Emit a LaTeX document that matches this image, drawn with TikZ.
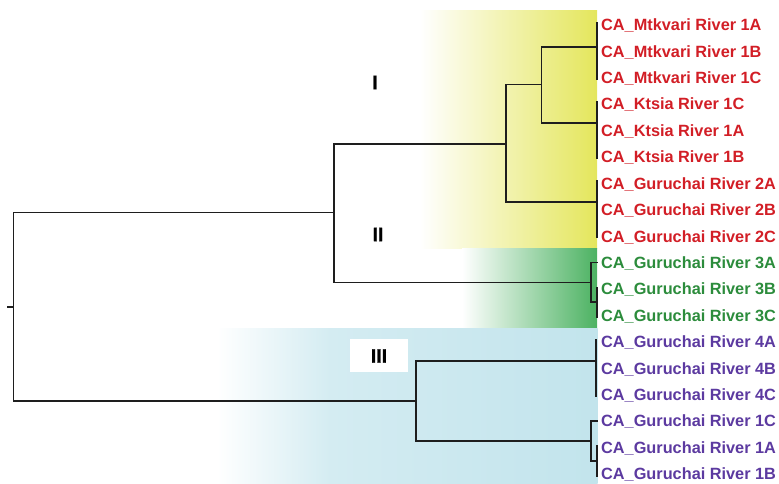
\documentclass[tikz,border=0pt]{standalone}
\usepackage{fontspec}
\setmainfont{Liberation Sans}
\newfontfamily\romanfont[UprightFont={* Bold}, UprightFeatures={FakeBold=1.2}]{Liberation Sans}
\definecolor{yelC}{RGB}{228,230,92}
\definecolor{grnC}{RGB}{76,178,98}
\definecolor{bluA}{RGB}{212,236,242}
\definecolor{bluB}{RGB}{194,228,236}
\definecolor{txtRed}{RGB}{210,30,38}
\definecolor{txtGrn}{RGB}{44,140,60}
\definecolor{txtPur}{RGB}{92,58,160}
\definecolor{lineC}{RGB}{30,30,30}
\begin{document}
\begin{tikzpicture}[x=1pt,y=-1pt,
  branch/.style={draw=lineC, line width=1.2pt, line cap=rect},
  leaf/.style={anchor=base west, inner sep=0pt, font=\bfseries\fontsize{16.3}{18}\selectfont},
  leafI/.style={leaf, text=txtRed},
  leafII/.style={leaf, text=txtGrn},
  leafIII/.style={leaf, text=txtPur},
  roman/.style={inner sep=0pt, font=\romanfont\fontsize{19.5}{22}\selectfont}]
\useasboundingbox (0,0) rectangle (779,484);

% cluster backgrounds
\shade[left color=white, right color=yelC] (420,11) rectangle (597,248);
\shade[left color=white, right color=grnC] (462,248) rectangle (597,328);
\shade[left color=white, right color=bluA] (217,328) rectangle (330,484);
\shade[left color=bluA, right color=bluB] (330,328) rectangle (597.5,484);

% leaf labels
\foreach \nm/\txt/\yy/\st in {
  m1a/CA\_Mtkvari River 1A/25/leafI,
  m1b/CA\_Mtkvari River 1B/51.4/leafI,
  m1c/CA\_Mtkvari River 1C/77.8/leafI,
  k1c/CA\_Ktsia River 1C/104.2/leafI,
  k1a/CA\_Ktsia River 1A/130.6/leafI,
  k1b/CA\_Ktsia River 1B/157/leafI,
  g2a/CA\_Guruchai River 2A/183.4/leafI,
  g2b/CA\_Guruchai River 2B/209.8/leafI,
  g2c/CA\_Guruchai River 2C/236.2/leafI,
  g3a/CA\_Guruchai River 3A/262.6/leafII,
  g3b/CA\_Guruchai River 3B/289/leafII,
  g3c/CA\_Guruchai River 3C/315.4/leafII,
  g4a/CA\_Guruchai River 4A/341.8/leafIII,
  g4b/CA\_Guruchai River 4B/368.2/leafIII,
  g4c/CA\_Guruchai River 4C/394.6/leafIII,
  g1c/CA\_Guruchai River 1C/421/leafIII,
  g1a/CA\_Guruchai River 1A/447.4/leafIII,
  g1b/CA\_Guruchai River 1B/473.8/leafIII}
  \node[\st] (\nm) at (601,\yy+5.8) {\txt};

% terminal clades (near-zero branch lengths)
\coordinate (mk) at (597,47);
\coordinate (kt) at (597,123);
\coordinate (gII) at (597,202);
\coordinate (gIIIa) at (597,262.6);
\coordinate (gIIIbc) at (597,302);
\coordinate (gIIIx) at (591,282.5);
\coordinate (gIV) at (596,361);
\coordinate (gIc) at (597,421);
\coordinate (gIab) at (597,461);
\coordinate (gIx) at (591,441);

% internal nodes
\coordinate (nA) at (541.5,84.3);
\coordinate (nB) at (506,144);
\coordinate (nC) at (334,212.7);
\coordinate (nD) at (416,401);
\coordinate (root) at (13.3,307);
\coordinate (rootStem) at (8,307);

% leaf groups
\draw[branch] (597,23) -- (597,79);
\draw[branch] (597,102) -- (597,158);
\draw[branch] (597,181) -- (597,237);
\draw[branch] (597,288) -- (597,317);
\draw[branch] (596,340) -- (596,396);
\draw[branch] (597,446) -- (597,476);
\draw[branch] (gIIIa) -| (gIIIx) |- (gIIIbc);
\draw[branch] (gIc) -| (gIx) |- (gIab);

% tree
\draw[branch] (mk) -| (nA) |- (kt);
\draw[branch] (nA) -| (nB) |- (gII);
\draw[branch] (nB) -| (nC) |- (gIIIx);
\draw[branch] (gIV) -| (nD) |- (gIx);
\draw[branch] (nC) -| (root) |- (nD);
\draw[branch] (rootStem) -- (root);

% cluster labels
\node[roman] (cI) at (375,82.5) {I};
\node[roman] (cII) at (378,234.5) {II};
\fill[white] (350,339) rectangle (408,372);
\node[roman] (cIII) at (379,356) {III};
\end{tikzpicture}
\end{document}
